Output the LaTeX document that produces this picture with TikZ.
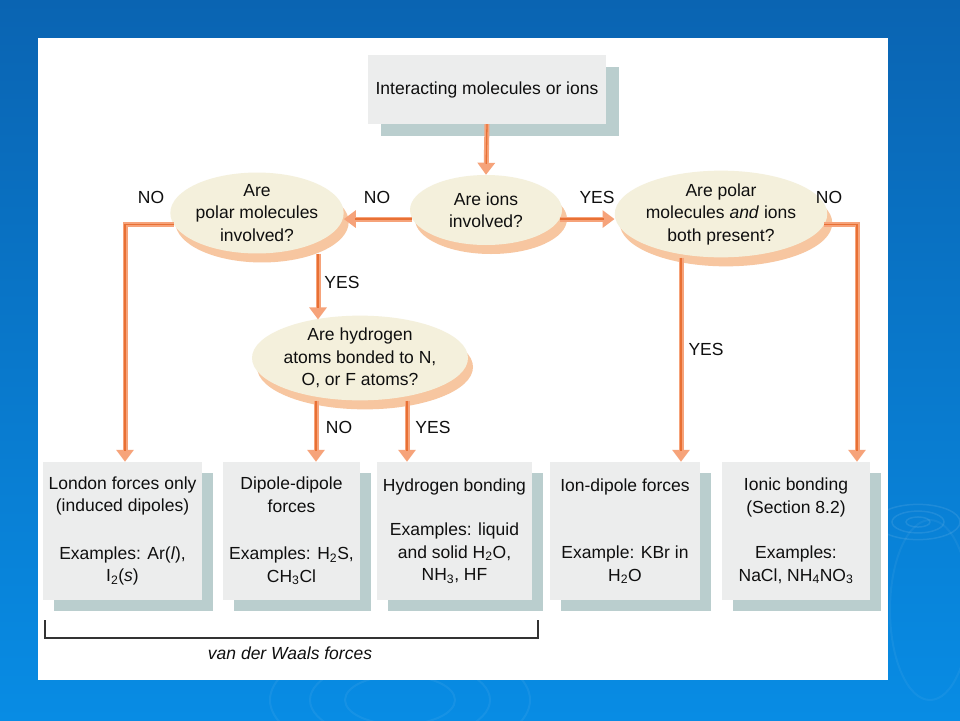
\documentclass[tikz,border=0pt]{standalone}
\usepackage{fontspec}
\setmainfont{Liberation Sans}
\usetikzlibrary{shapes.geometric,shadows,arrows.meta}
\definecolor{slidetop}{RGB}{10,100,178}
\definecolor{slidelow}{RGB}{8,140,228}
\definecolor{boxgray}{RGB}{236,237,237}
\definecolor{shade}{RGB}{186,206,206}
\definecolor{cream}{RGB}{244,240,220}
\definecolor{peach}{RGB}{247,198,160}
\definecolor{arrowlight}{RGB}{246,163,122}
\definecolor{arrowdark}{RGB}{232,112,52}
\definecolor{ink}{RGB}{15,15,15}
\begin{document}
\begin{tikzpicture}[x=1pt,y=-1pt,
  txt/.style={font=\fontsize{17.5}{22.5}\selectfont, text=ink, inner sep=0pt},
  box/.style={txt, rectangle, fill=boxgray, minimum width=#1, minimum height=138, align=center,
    drop shadow={shadow xshift=11pt, shadow yshift=-11pt, fill=shade, opacity=1}},
  ask/.style={txt, ellipse, fill=cream, align=center,
    drop shadow={shadow xshift=5pt, shadow yshift=-9pt, fill=peach, opacity=1}},
  flow/.style={draw=arrowlight, line width=5pt, -{Triangle[width=17pt,length=12pt]},
    postaction={draw=arrowdark, line width=1.3pt, -, shorten >=11pt}},
  answer/.style={txt}]
\useasboundingbox (0,0) rectangle (960,720);
\shade [top color=slidetop, bottom color=slidelow] (0,0) rectangle (960,720);
% ripples on the slide
\foreach \r in {12,26,42}
  \draw [white, opacity=0.09, line width=1.5pt] (918,522) ellipse ({\r} and {\r*0.42});
\foreach \r in {55,90,130}
  \draw [white, opacity=0.06, line width=2pt] (400,700) ellipse ({\r} and {\r*0.45});
\draw [white, opacity=0.05, line width=2pt] (930,610) ellipse (40 and 90);
\fill [white] (38,38) rectangle (888,680);

% questions
\node [txt, rectangle, fill=boxgray, minimum width=238, minimum height=69,
  drop shadow={shadow xshift=13pt, shadow yshift=-12pt, fill=shade, opacity=1}]
  (start) at (487,89.5) {Interacting molecules or ions};
\node [ask, minimum width=152, minimum height=70] (ions) at (486,210) {Are ions\\involved?};
\node [ask, minimum width=160, minimum height=64] (polar) at (257,213) {Are\\polar molecules\\involved?};
\node [ask, minimum width=158, minimum height=62] (both) at (721,214) {Are polar\\molecules \textit{and} ions\\both present?};
\node [ask, minimum width=156, minimum height=64] (hydro) at (360,358) {Are hydrogen\\atoms bonded to N,\\O, or F atoms?};

% kinds of forces
\node [box=159] (london) at (122.5,531) {London forces only\\(induced dipoles)\\[25pt]Examples: Ar(\textit{l}),\\I\textsubscript{2}(\textit{s})};
\node [box=137] (dipole) at (291.5,531) {Dipole-dipole\\forces\\[25pt]Examples: H\textsubscript{2}S,\\CH\textsubscript{3}Cl};
\node [box=155] (hbond) at (454.5,531) {Hydrogen bonding\\[22pt]Examples: liquid\\and solid H\textsubscript{2}O,\\NH\textsubscript{3}, HF};
\node [box=150] (iondip) at (625,531) {Ion-dipole forces\\[45pt]Example: KBr in\\H\textsubscript{2}O};
\node [box=148] (ionic) at (796,531) {Ionic bonding\\(Section 8.2)\\[23pt]Examples:\\NaCl, NH\textsubscript{4}NO\textsubscript{3}};

% arrows
\draw [flow] (start.south) -- (ions.north);
\draw [flow] (ions.187) -- (ions.187 -| polar.east);
\draw [flow] (ions.-7) -- (ions.-7 -| both.west);
\draw [flow] (polar.188) -| ([xshift=2.5pt]london.north);
\draw [flow] ([xshift=61pt]polar.south) -- ([xshift=61pt,yshift=-4pt]polar.south |- hydro.north);
\draw [flow] ([xshift=-44pt]hydro.south) -- ([xshift=-44pt]hydro.south |- dipole.north);
\draw [flow] ([xshift=47pt]hydro.south) -- ([xshift=47pt]hydro.south |- hbond.north);
\draw [flow] ([xshift=-40pt]both.south) -- ([xshift=-40pt]both.south |- iondip.north);
\draw [flow] (both.-6) -| ([xshift=61pt]ionic.north);

% answers
\node [answer] (nopolar) at (151,197) {NO};
\node [answer] (noions) at (377,197) {NO};
\node [answer] (yesions) at (597,197) {YES};
\node [answer] (noboth) at (829,197) {NO};
\node [answer] (yespolar) at (342,282) {YES};
\node [answer] (nohydro) at (339,427) {NO};
\node [answer] (yeshydro) at (433,427) {YES};
\node [answer] (yesboth) at (706,349) {YES};

% bracket
\draw [ink!85, line width=1.2pt] (45,620) |- (538,638) -- (538,620);
\node [txt, font=\fontsize{17.5}{22}\selectfont\itshape] (vdw) at (290,653) {van der Waals forces};
\end{tikzpicture}
\end{document}
